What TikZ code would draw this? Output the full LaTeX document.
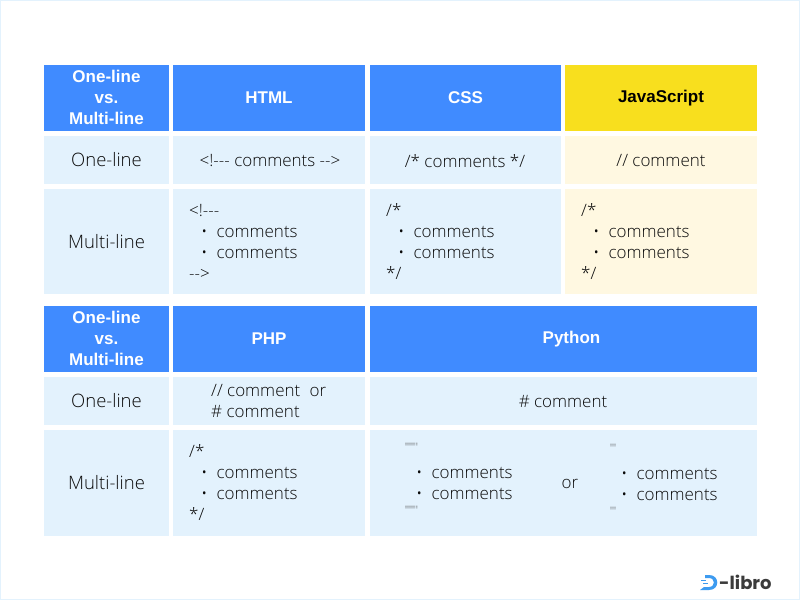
\documentclass[tikz,border=0pt]{standalone}
\usepackage{fontspec}
\setmainfont{Liberation Sans}
\newfontfamily\lightfont{Open Sans Light}
\newfontfamily\logofont{Poppins}
\definecolor{headblue}{HTML}{408BFF}
\definecolor{cellblue}{HTML}{E3F2FD}
\definecolor{headyellow}{HTML}{F8DF1E}
\definecolor{cellyellow}{HTML}{FFF8E1}
\definecolor{inkgray}{HTML}{0A0A0A}
\definecolor{logoblue}{HTML}{3D9BF0}
\tikzset{
    headtext/.style={font=\fontsize{17}{21}\selectfont\bfseries, text=white, align=center},
    rowtext/.style={font=\lightfont\fontsize{18.5}{21}\selectfont, text=inkgray, align=center},
    celltext/.style={font=\lightfont\fontsize{17}{21}\selectfont, text=inkgray, align=center},
    codetext/.style={font=\lightfont\fontsize{17}{21}\selectfont, text=inkgray, align=left, anchor=west, inner sep=0pt},
    quotetext/.style={font=\lightfont\fontsize{13}{13}\selectfont, text=inkgray!75, anchor=north west, inner sep=0pt}
}
\newcommand{\bulletline}{\hspace{12pt}\textbullet\hspace{9pt}comments}
\newcommand{\dblquotes}{\scalebox{0.45}[0.9]{\symbol{34}\symbol{34}\symbol{34}\symbol{34}\symbol{34}\symbol{34}}}
\newcommand{\sglquotes}{\scalebox{0.8}[0.9]{\symbol{39}\symbol{39}\symbol{39}}}
\begin{document}
\begin{tikzpicture}[x=1pt,y=-1pt]
    \useasboundingbox (0,0) rectangle (800,600);
    \draw[cellblue, fill=white] (0.5,0.5) rectangle (799.5,599.5);
    % upper table
    \fill[headblue] (44,65) rectangle (169,131);
    \fill[headblue] (173,65) rectangle (365,131);
    \fill[headblue] (370,65) rectangle (561,131);
    \fill[headyellow] (565,65) rectangle (757,131);
    \fill[cellblue] (44,136) rectangle (169,184);
    \fill[cellblue] (173,136) rectangle (365,184);
    \fill[cellblue] (370,136) rectangle (561,184);
    \fill[cellyellow] (565,136) rectangle (757,184);
    \fill[cellblue] (44,189) rectangle (169,294);
    \fill[cellblue] (173,189) rectangle (365,294);
    \fill[cellblue] (370,189) rectangle (561,294);
    \fill[cellyellow] (565,189) rectangle (757,294);
    \node[headtext] (headA) at (106.5,97.5) {One-line\\vs.\\Multi-line};
    \node[headtext] (html) at (269,98) {HTML};
    \node[headtext] (css) at (465.5,98) {CSS};
    \node[headtext, text=black] (js) at (661,98) {JavaScript};
    \node[rowtext] (oneA) at (106.5,160) {One-line};
    \node[celltext] (htmlone) at (270,161) {<!-{}-{}- comments -{}->};
    \node[celltext] (cssone) at (465,161) {/* comments */};
    \node[celltext] (jsone) at (661,161) {// comment};
    \node[rowtext] (multiA) at (106.5,241.5) {Multi-line};
    \node[codetext] (htmlmulti) at (189,241.5) {<!-{}-{}-\\\bulletline\\\bulletline\\-{}->};
    \node[codetext] (cssmulti) at (386,241.5) {/*\\\bulletline\\\bulletline\\*/};
    \node[codetext] (jsmulti) at (581,241.5) {/*\\\bulletline\\\bulletline\\*/};
    % lower table
    \fill[headblue] (44,306) rectangle (169,372);
    \fill[headblue] (173,306) rectangle (365,372);
    \fill[headblue] (370,306) rectangle (757,372);
    \fill[cellblue] (44,377) rectangle (169,425);
    \fill[cellblue] (173,377) rectangle (365,425);
    \fill[cellblue] (370,377) rectangle (757,425);
    \fill[cellblue] (44,430) rectangle (169,536);
    \fill[cellblue] (173,430) rectangle (365,536);
    \fill[cellblue] (370,430) rectangle (757,536);
    \node[headtext] (headB) at (106.5,338.5) {One-line\\vs.\\Multi-line};
    \node[headtext] (php) at (269,339) {PHP};
    \node[headtext] (python) at (571.5,339) {Python};
    \node[rowtext] (oneB) at (106.5,401) {One-line};
    \node[celltext, align=left, anchor=west, inner sep=0pt] (phpone) at (211,401.5) {// comment\hspace{5pt} or\\\# comment};
    \node[celltext] (pyone) at (563,402) {\# comment};
    \node[rowtext] (multiB) at (106.5,482.5) {Multi-line};
    \node[codetext] (phpmulti) at (189,482.5) {/*\\\bulletline\\\bulletline\\*/};
    \node[quotetext] (dqtop) at (405,443) {\dblquotes};
    \node[codetext] (dqlist) at (404,483) {\bulletline\\\bulletline};
    \node[quotetext] (dqend) at (405,506) {\dblquotes};
    \node[celltext] (pyor) at (570,484) {or};
    \node[quotetext] (sqtop) at (610,444) {\sglquotes};
    \node[codetext] (sqlist) at (609,484) {\bulletline\\\bulletline};
    \node[quotetext] (sqend) at (610,507) {\sglquotes};
    % logo
    \fill[logoblue] (705,575) -- (705,578) -- (709,578) .. controls (715.5,578) and (715.5,587) .. (709,587) -- (704,587) -- (700,590) -- (709,590) .. controls (720,590) and (720,575) .. (709,575) -- cycle;
    \fill[logoblue] (701,580) rectangle (706,581);
    \fill[logoblue] (703,582.5) rectangle (708,583.5);
    \node[font=\logofont\bfseries\fontsize{18}{19}\selectfont, text=inkgray!80, anchor=west, inner sep=0pt] (logotext) at (719,582.5) {-libro};
\end{tikzpicture}
\end{document}
